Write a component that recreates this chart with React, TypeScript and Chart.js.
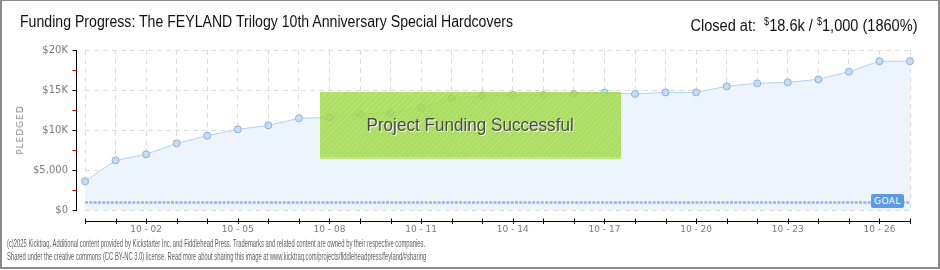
import React, { useEffect, useRef } from "react";
import { Chart, registerables } from "chart.js";

Chart.register(...registerables);

const dates = [
  "09-30", "10-01", "10-02", "10-03", "10-04", "10-05", "10-06", "10-07",
  "10-08", "10-09", "10-10", "10-11", "10-12", "10-13", "10-14", "10-15",
  "10-16", "10-17", "10-18", "10-19", "10-20", "10-21", "10-22", "10-23",
  "10-24", "10-25", "10-26", "10-27",
];
const pledged = [
  3580, 6210, 6960, 8330, 9290, 10080, 10580, 11460,
  11580, 12000, 12130, 12790, 13960, 14330, 14375, 14375,
  14500, 14670, 14500, 14700, 14700, 15460, 15830, 15960,
  16330, 17290, 18600, 18600,
];
const GOAL = 1000;
const yTickValues = [0, 5000, 10000, 15000, 20000];
const yTickLabels = ["$0", "$5,000", "$10K", "$15K", "$20K"];
const titleText = "Funding Progress: The FEYLAND Trilogy 10th Anniversary Special Hardcovers";
const footerLines = [
  "(c)2025 Kicktraq. Additional content provided by Kickstarter Inc. and Fiddlehead Press. Trademarks and related content are owned by their respective companies.",
  "Shared under the creative commons (CC BY-NC 3.0) license. Read more about sharing this image at www.kicktraq.com/projects/fiddleheadpress/feyland/#sharing",
];

const axesPlugin = {
  id: "kickAxes",
  afterDatasetsDraw(chart: any) {
    const { ctx, chartArea, scales } = chart;
    const x = scales.x;
    const y = scales.y;
    ctx.save();
    // goal line
    const gy = Math.round(y.getPixelForValue(GOAL)) + 0.5;
    ctx.strokeStyle = "#94b9e8";
    ctx.lineWidth = 2.5;
    ctx.setLineDash([3, 1.3]);
    ctx.beginPath();
    ctx.moveTo(chartArea.left, gy);
    ctx.lineTo(chartArea.right, gy);
    ctx.stroke();
    ctx.setLineDash([]);

    // y axis
    ctx.lineWidth = 1;
    ctx.strokeStyle = "#000";
    const ax = Math.round(chartArea.left - 9) + 0.5;
    const yTop = y.getPixelForValue(yTickValues[yTickValues.length - 1]);
    const yBot = y.getPixelForValue(yTickValues[0]);
    ctx.beginPath();
    ctx.moveTo(ax, Math.round(yTop));
    ctx.lineTo(ax, Math.round(yBot) + 1);
    ctx.stroke();
    for (let i = 0; i < yTickValues.length; i++) {
      const py = Math.round(y.getPixelForValue(yTickValues[i])) + 0.5;
      ctx.strokeStyle = "#000";
      ctx.beginPath();
      ctx.moveTo(ax - 4, py);
      ctx.lineTo(ax, py);
      ctx.stroke();
      if (i < yTickValues.length - 1) {
        const mid = (yTickValues[i] + yTickValues[i + 1]) / 2;
        const my = Math.round(y.getPixelForValue(mid)) + 0.5;
        ctx.strokeStyle = "#e00000";
        ctx.beginPath();
        ctx.moveTo(ax - 4, my);
        ctx.lineTo(ax, my);
        ctx.stroke();
      }
    }
    // x axis
    ctx.strokeStyle = "#000";
    const ay = Math.round(chartArea.bottom + 11) + 0.5;
    ctx.beginPath();
    ctx.moveTo(chartArea.left, ay);
    ctx.lineTo(chartArea.right + 1, ay);
    ctx.stroke();
    for (let i = 0; i < dates.length; i++) {
      const px = Math.round(x.getPixelForValue(i)) + 0.5;
      ctx.beginPath();
      ctx.moveTo(px, ay - 3);
      ctx.lineTo(px, ay + 2.5);
      ctx.stroke();
    }
    ctx.restore();
  },
};

export default function App() {
  const ref = useRef<HTMLCanvasElement | null>(null);
  useEffect(() => {
    document.body.style.margin = "0";
    const canvas = ref.current;
    if (!canvas) return;
    const chart = new Chart(canvas, {
      type: "line",
      data: {
        labels: dates,
        datasets: [
          {
            label: "Pledged",
            data: pledged,
            borderColor: "#b5d2f2",
            borderWidth: 1,
            backgroundColor: "#edf4fc",
            fill: "origin",
            tension: 0,
            pointRadius: 3.5,
            pointBorderWidth: 1,
            pointBackgroundColor: "#c3dcf7",
            pointBorderColor: "#8fb0da",
          },
        ],
      },
      options: {
        responsive: false,
        animation: false,
        layout: { padding: { top: 50, right: 30, left: 0, bottom: 0 } },
        plugins: {
          legend: { display: false },
          tooltip: { enabled: false },
          title: { display: false },
        },
        scales: {
          x: {
            type: "category",
            offset: false,
            afterFit: (s: any) => {
              s.height = 60;
            },
            grid: { color: "#dcdcdc", drawTicks: false, lineWidth: 1 },
            border: { display: false, dash: [5, 4] },
            ticks: {
              autoSkip: false,
              maxRotation: 0,
              minRotation: 0,
              padding: 14,
              color: "#7a7a7a",
              font: { family: "DejaVu Sans", size: 9 },
              callback: (_v: any, i: number) => (i % 3 === 2 ? "10 - " + dates[i].slice(3) : ""),
            },
          },
          y: {
            min: 0,
            max: 20000,
            afterFit: (s: any) => {
              s.width = 85;
            },
            afterBuildTicks: (s: any) => {
              s.ticks = yTickValues.map((v) => ({ value: v }));
            },
            grid: { color: "#dcdcdc", drawTicks: false, lineWidth: 1 },
            border: { display: false, dash: [5, 4] },
            ticks: {
              padding: 17,
              color: "#7a7a7a",
              font: { family: "DejaVu Sans", size: 10 },
              callback: (v: any) => {
                const idx = yTickValues.indexOf(Number(v));
                return idx >= 0 ? yTickLabels[idx] : "";
              },
            },
          },
        },
      },
      plugins: [axesPlugin],
    });
    return () => chart.destroy();
  }, []);

  return (
    <div
      style={{
        position: "fixed",
        left: 0,
        top: 0,
        width: 940,
        height: 270,
        background: "#fff",
        overflow: "hidden",
        fontFamily: "'Liberation Sans', sans-serif",
      }}
    >
      <canvas ref={ref} width={940} height={270} style={{ position: "absolute", left: 0, top: 0 }} />
      <div
        style={{
          position: "absolute",
          left: 20,
          top: 12,
          fontSize: 16,
          lineHeight: "20px",
          color: "#111",
          whiteSpace: "nowrap",
          transform: "scaleX(0.882)",
          transformOrigin: "left center",
        }}
      >
        {titleText}
      </div>
      <div
        style={{
          position: "absolute",
          right: 22,
          top: 12,
          fontSize: 16,
          lineHeight: "20px",
          color: "#111",
          whiteSpace: "nowrap",
          transform: "scaleX(0.91)",
          transformOrigin: "right center",
        }}
      >
        Closed at:&nbsp; <sup style={{ fontSize: 10 }}>$</sup>18.6k / <sup style={{ fontSize: 10 }}>$</sup>1,000 (1860%)
      </div>
      <div
        style={{
          position: "absolute",
          left: 20,
          top: 130,
          transform: "translate(-50%, -50%) rotate(-90deg)",
          fontFamily: "DejaVu Sans",
          fontSize: 9,
          letterSpacing: 1,
          color: "#8a8a8a",
          whiteSpace: "nowrap",
        }}
      >
        PLEDGED
      </div>
      <div
        style={{
          position: "absolute",
          left: 320,
          top: 92,
          width: 301,
          height: 65,
          background:
            "repeating-linear-gradient(135deg, rgba(166,221,78,0.84) 0px, rgba(166,221,78,0.84) 2px, rgba(158,214,70,0.84) 2px, rgba(158,214,70,0.84) 4px)",
          borderBottom: "2px solid rgba(196,232,132,0.95)",
          display: "flex",
          alignItems: "center",
          justifyContent: "center",
        }}
      >
        <span
          style={{
            fontSize: 19,
            color: "#4a4a4a",
            textShadow: "1px 1px 0 #ffffff",
            whiteSpace: "nowrap",
            transform: "scaleX(0.9)",
            display: "inline-block",
          }}
        >
          Project Funding Successful
        </span>
      </div>
      <div
        style={{
          position: "absolute",
          left: 871,
          top: 194,
          width: 33,
          height: 14,
          background: "#5b9be0",
          borderRadius: 2,
          color: "#fff",
          fontFamily: "DejaVu Sans",
          fontSize: 9,
          lineHeight: "14px",
          textAlign: "center",
          letterSpacing: 0.5,
        }}
      >
        GOAL
      </div>
      <div
        style={{
          position: "absolute",
          left: 7,
          top: 237,
          fontSize: 10,
          lineHeight: "13px",
          color: "#5e5e5e",
          whiteSpace: "nowrap",
          transform: "scaleX(0.585)",
          transformOrigin: "left top",
        }}
      >
        <div>{footerLines[0]}</div>
        <div>{footerLines[1]}</div>
      </div>
      <div
        style={{
          position: "absolute",
          left: 0,
          top: 0,
          width: 940,
          height: 269,
          boxSizing: "border-box",
          borderTop: "1px solid #8a8a8a",
          borderLeft: "2px solid #8a8a8a",
          borderRight: "2px solid #8a8a8a",
          borderBottom: "2px solid #8a8a8a",
          pointerEvents: "none",
        }}
      />
    </div>
  );
}
